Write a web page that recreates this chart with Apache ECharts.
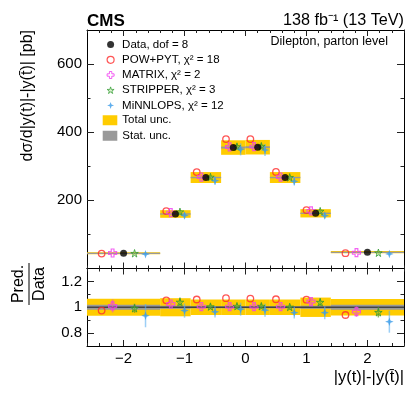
<!DOCTYPE html>
<html>
<head>
<meta charset="utf-8">
<script src="https://cdn.jsdelivr.net/npm/echarts@6/dist/echarts.min.js"></script>
<style>html,body{margin:0;padding:0;background:#fff}#chart{width:407px;height:394px}</style>
</head>
<body>
<div id="chart"></div>
<script>
// bins of |y(t)|-|y(tbar)|
var binLo = [-2.6, -1.4, -0.9, -0.4, 0, 0.4, 0.9, 1.4];
var binHi = [-1.4, -0.9, -0.4, 0, 0.4, 0.9, 1.4, 2.6];
// measured cross section [pb] and relative uncertainties
var dataVal = [45, 160, 267, 355, 356, 267, 162, 48];
var totUnc = [0.065, 0.07, 0.06, 0.06, 0.06, 0.06, 0.075, 0.063];
var statUnc = [0.02, 0.012, 0.008, 0.008, 0.008, 0.008, 0.012, 0.02];
// predictions as ratio to data
var powRatio = [0.974, 1.054, 1.06, 1.07, 1.067, 1.062, 1.059, 0.94];
var matrixRatio = [1.01, 1.025, 1.005, 1.005, 1.005, 1.005, 1.044, 0.966];
var matrixErr = [0.05, 0.025, 0.02, 0.02, 0.02, 0.02, 0.025, 0.04];
var stripperRatio = [0.992, 1.04, 1.005, 1.008, 1.008, 1.002, 1.039, 0.961];
var stripperErr = [0.035, 0.035, 0.02, 0.02, 0.02, 0.02, 0.03, 0.04];
var minnlopsRatio = [0.935, 0.974, 0.965, 0.985, 0.977, 0.958, 0.958, 0.888];
var minnlopsErr = [0.09, 0.055, 0.045, 0.05, 0.05, 0.045, 0.05, 0.085];
// axis ticks
var xTicks = [-2, -1, 0, 1, 2];
var yTicks = [200, 400, 600];
var yMinor = [100, 300, 500];
var rTicks = [0.8, 1, 1.2];
var rMinor = [0.9, 1.1];

var FONT = '"Liberation Sans", Arial, sans-serif';
var names = {
    data: 'Data, dof = 8',
    pow: 'POW+PYT, χ² = 18',
    matrix: 'MATRIX, χ² = 2',
    stripper: 'STRIPPER, χ² = 3',
    minnlops: 'MiNNLOPS, χ² = 12',
    tot: 'Total unc.',
    stat: 'Stat. unc.'
};
var colors = {
    pow: '#ff2b2b', matrix: '#f03cf0', stripper: '#2f9a2f', minnlops: '#3a9be8',
    matrixBar: 'rgba(240,80,190,0.65)', stripperBar: 'rgba(90,150,40,0.7)', minnlopsBar: 'rgba(90,175,240,0.6)'
};
var clear = 'rgba(255,255,255,0)';
var starPath = 'path://M50,0 L61,35 L98,35 L68,57 L79,91 L50,70 L21,91 L32,57 L2,35 L39,35 Z';
var crossPath = 'path://M33,0 L67,0 L67,33 L100,33 L100,67 L67,67 L67,100 L33,100 L33,67 L0,67 L0,33 L33,33 Z';
var star4Path = 'path://M50,0 L63,37 L100,50 L63,63 L50,100 L37,63 L0,50 L37,37 Z';

var xMinor = [];
for (var v = -26; v <= 26; v += 2) if (v % 10 != 0) xMinor.push(v / 10);

function posX(i, frac) { return (binLo[i] + binHi[i]) / 2 + frac * (binHi[i] - binLo[i]) }

function bands(rel, ratio) {
    var out = [];
    for (var i = 0; i < binLo.length; i++) {
        var c = ratio ? 1 : dataVal[i];
        out.push([binLo[i], binHi[i], c * (1 - rel[i]), c * (1 + rel[i])]);
    }
    return out;
}
function points(r, frac, ratio) {
    var out = [];
    for (var i = 0; i < binLo.length; i++) out.push([posX(i, frac), ratio ? r[i] : r[i] * dataVal[i]]);
    return out;
}
function bars(r, e, frac, ratio) {
    var out = [];
    for (var i = 0; i < binLo.length; i++) {
        var c = ratio ? 1 : dataVal[i];
        out.push([posX(i, frac), c * (r[i] - e[i]), c * (r[i] + e[i])]);
    }
    return out;
}

function bandItem(params, api) {
    var p0 = api.coord([api.value(0), api.value(3)]);
    var p1 = api.coord([api.value(1), api.value(2)]);
    return {
        type: 'rect',
        shape: { x: p0[0], y: p0[1], width: p1[0] - p0[0], height: Math.max(p1[1] - p0[1], 1.2) },
        style: { fill: api.visual('color') }
    };
}
function barItem(params, api) {
    var a = api.coord([api.value(0), api.value(1)]);
    var b = api.coord([api.value(0), api.value(2)]);
    return {
        type: 'line',
        shape: { x1: a[0], y1: a[1], x2: b[0], y2: b[1] },
        style: { stroke: api.visual('color'), lineWidth: 1.5 }
    };
}

function xAxes(grid) {
    var base = { gridIndex: grid, type: 'value', min: -2.6, max: 2.6, splitLine: { show: false } };
    var list = [];
    ['bottom', 'top'].forEach(function (pos) {
        list.push(Object.assign({}, base, {
            position: pos,
            axisLine: { show: true, onZero: false, lineStyle: { color: '#000', width: 1 } },
            axisTick: { show: true, inside: true, length: 6, customValues: xTicks, lineStyle: { color: '#222' } },
            axisLabel: (grid == 1 && pos == 'bottom') ? {
                show: true, customValues: xTicks, margin: 5, fontSize: 15, color: '#000', fontFamily: FONT,
                formatter: function (v) { return v < 0 ? '\u2212' + (-v) : '' + v }
            } : { show: false }
        }));
        list.push(Object.assign({}, base, {
            position: pos,
            axisLine: { show: false, onZero: false },
            axisTick: { show: true, inside: true, length: 3, customValues: xMinor, lineStyle: { color: '#222' } },
            axisLabel: { show: false }
        }));
    });
    return list;
}
function yAxes(grid, min, max, major, minor) {
    var base = { gridIndex: grid, type: 'value', min: min, max: max, splitLine: { show: false } };
    var list = [];
    ['left', 'right'].forEach(function (pos) {
        list.push(Object.assign({}, base, {
            position: pos,
            axisLine: { show: true, onZero: false, lineStyle: { color: '#000', width: 1 } },
            axisTick: { show: true, inside: true, length: 7, customValues: major, lineStyle: { color: '#222' } },
            axisLabel: pos == 'left' ? { show: true, customValues: major, margin: 5, fontSize: 15, color: '#000', fontFamily: FONT } : { show: false }
        }));
        list.push(Object.assign({}, base, {
            position: pos,
            axisLine: { show: false, onZero: false },
            axisTick: { show: true, inside: true, length: 3.5, customValues: minor, lineStyle: { color: '#222' } },
            axisLabel: { show: false }
        }));
    });
    return list;
}

var series = [];
[0, 1].forEach(function (g) {
    var ratio = g == 1;
    var ax = { xAxisIndex: g * 4, yAxisIndex: g * 4 };
    series.push(Object.assign({ name: names.tot, type: 'custom', renderItem: bandItem, z: 1,
        itemStyle: { color: '#ffcc00' }, encode: { x: [0, 1], y: [2, 3] }, data: bands(totUnc, ratio) }, ax));
    series.push(Object.assign({ name: names.stat, type: 'custom', renderItem: bandItem, z: 2,
        itemStyle: { color: '#999999' }, encode: { x: [0, 1], y: [2, 3] }, data: bands(statUnc, ratio) }, ax));
    if (ratio) {
        series.push(Object.assign({ name: 'one', type: 'line', z: 3, symbol: 'none', silent: true,
            lineStyle: { color: '#444', width: 1.6 }, data: [[-2.6, 1], [2.6, 1]] }, ax));
    }
    series.push(Object.assign({ name: 'matrixErr', type: 'custom', renderItem: barItem, z: 4,
        itemStyle: { color: colors.matrixBar }, encode: { x: 0, y: [1, 2] }, data: bars(matrixRatio, matrixErr, -0.15, ratio) }, ax));
    series.push(Object.assign({ name: 'stripperErr', type: 'custom', renderItem: barItem, z: 4,
        itemStyle: { color: colors.stripperBar }, encode: { x: 0, y: [1, 2] }, data: bars(stripperRatio, stripperErr, 0.15, ratio) }, ax));
    series.push(Object.assign({ name: 'minnlopsErr', type: 'custom', renderItem: barItem, z: 4,
        itemStyle: { color: colors.minnlopsBar }, encode: { x: 0, y: [1, 2] }, data: bars(minnlopsRatio, minnlopsErr, 0.3, ratio) }, ax));
    if (!ratio) {
        series.push(Object.assign({ name: names.data, type: 'scatter', z: 6, symbol: 'circle', symbolSize: 7,
            itemStyle: { color: '#000' }, data: points(dataVal.map(function () { return 1 }), 0, false) }, ax));
    }
    series.push(Object.assign({ name: names.pow, type: 'scatter', z: 5, symbol: 'circle', symbolSize: 6.5,
        itemStyle: { color: clear, borderColor: colors.pow, borderWidth: 1.3 }, data: points(powRatio, -0.3, ratio) }, ax));
    series.push(Object.assign({ name: names.matrix, type: 'scatter', z: 5, symbol: crossPath, symbolSize: 8,
        itemStyle: { color: clear, borderColor: colors.matrix, borderWidth: 1.2 }, data: points(matrixRatio, -0.15, ratio) }, ax));
    series.push(Object.assign({ name: names.stripper, type: 'scatter', z: 5, symbol: starPath, symbolSize: 7.5,
        itemStyle: { color: 'rgba(120,200,80,0.35)', borderColor: colors.stripper, borderWidth: 1 }, data: points(stripperRatio, 0.15, ratio) }, ax));
    series.push(Object.assign({ name: names.minnlops, type: 'scatter', z: 5, symbol: star4Path, symbolSize: 8.5,
        itemStyle: { color: colors.minnlops }, data: points(minnlopsRatio, 0.3, ratio) }, ax));
});

var chart = echarts.init(document.getElementById('chart'), null, { renderer: 'canvas' });
var option = {
    animation: false,
    textStyle: { fontFamily: FONT },
    grid: [
        { left: 87, right: 3, top: 30, height: 238.5 },
        { left: 87, right: 3, top: 268.5, height: 77.5 }
    ],
    xAxis: xAxes(0).concat(xAxes(1)),
    yAxis: yAxes(0, 0, 700, yTicks, yMinor).concat(yAxes(1, 0.7, 1.3, rTicks, rMinor)),
    legend: [
        {
            data: [
                { name: names.data, icon: 'circle', itemStyle: { color: '#000', borderWidth: 0 } },
                { name: names.pow, icon: 'circle', itemStyle: { color: clear, borderColor: colors.pow, borderWidth: 1.2 } },
                { name: names.matrix, icon: crossPath, itemStyle: { color: clear, borderColor: colors.matrix, borderWidth: 1 } },
                { name: names.stripper, icon: starPath, itemStyle: { color: 'rgba(120,200,80,0.35)', borderColor: colors.stripper, borderWidth: 0.9 } },
                { name: names.minnlops, icon: star4Path, itemStyle: { color: colors.minnlops, borderWidth: 0 } }
            ],
            orient: 'vertical', left: 106.5, top: 37, padding: 0, itemGap: 0,
            itemWidth: 7, itemHeight: 7, selectedMode: false,
            textStyle: { fontSize: 11.5, lineHeight: 15.2, color: '#000', fontFamily: FONT, padding: [0, 0, 0, 3] }
        },
        {
            data: [{ name: names.tot, icon: 'rect' }, { name: names.stat, icon: 'rect' }],
            orient: 'vertical', left: 102.7, top: 112.5, padding: 0, itemGap: 0,
            itemWidth: 14.6, itemHeight: 10, selectedMode: false,
            textStyle: { fontSize: 11.5, lineHeight: 15.5, color: '#000', fontFamily: FONT }
        }
    ],
    graphic: [
        { type: 'text', x: 87, y: 21, style: { text: 'CMS', font: 'bold 17px ' + FONT, verticalAlign: 'middle', fill: '#000' } },
        { type: 'text', x: 404, y: 21, style: { text: '138 fb\u207B\u00B9 (13 TeV)', font: '16.2px ' + FONT, align: 'right', verticalAlign: 'middle', fill: '#000' } },
        { type: 'text', x: 388, y: 42, style: { text: 'Dilepton, parton level', font: '12.5px ' + FONT, align: 'right', verticalAlign: 'middle', fill: '#000' } },
        { type: 'text', x: 28, y: 30, rotation: Math.PI / 2, style: { text: 'dσ/d|y(t)|-|y(t\u0304)| [pb]', font: '16px ' + FONT, align: 'right', verticalAlign: 'middle', fill: '#000' } },
        { type: 'text', x: 404, y: 377, style: { text: '|y(t)|-|y(t\u0304)|', font: '16.5px ' + FONT, align: 'right', verticalAlign: 'middle', fill: '#000' } },
        {
            type: 'group', x: 29, y: 284, rotation: Math.PI / 2,
            children: [
                { type: 'text', x: 0, y: -10.5, style: { text: 'Pred.', font: '16px ' + FONT, align: 'center', verticalAlign: 'middle', fill: '#000' } },
                { type: 'line', shape: { x1: -21, y1: 0, x2: 21, y2: 0 }, style: { stroke: '#000', lineWidth: 1 } },
                { type: 'text', x: 0, y: 10.5, style: { text: 'Data', font: '16px ' + FONT, align: 'center', verticalAlign: 'middle', fill: '#000' } }
            ]
        }
    ],
    series: series
};
chart.setOption(option);
</script>
</body>
</html>
